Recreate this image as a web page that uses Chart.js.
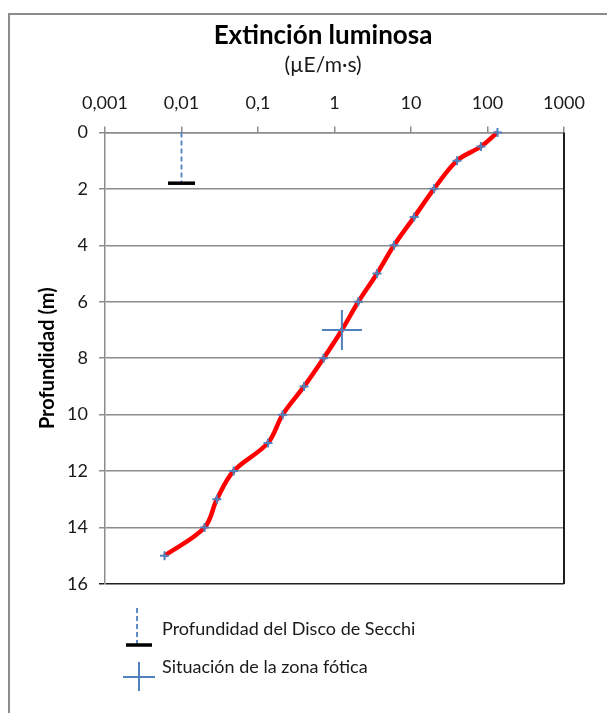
<!DOCTYPE html>
<html><head><meta charset="utf-8">
<script src="https://cdn.jsdelivr.net/npm/chart.js@4.4.1/dist/chart.umd.min.js"></script>
<style>html,body{margin:0;padding:0;background:#fff;}</style>
</head><body>
<canvas id="c" width="607" height="713"></canvas>
<script>
// ---- data ----
const depths = [0, 0.5, 1, 2, 3, 4, 5, 6, 7, 8, 9, 10, 11, 12, 13, 14, 15];
const lightValues = [135, 82, 40, 20, 11, 6, 3.6, 2.05, 1.25, 0.72, 0.4, 0.21, 0.135, 0.048, 0.029, 0.02, 0.006];
const xTickValues = [0.001, 0.01, 0.1, 1, 10, 100, 1000];
const xTickLabels = ['0,001', '0,01', '0,1', '1', '10', '100', '1000'];
const secchiLight = [0.01, 0.01];
const secchiDepths = [0, 1.8];
const photicLight = [1.25];
const photicDepth = [7];
const legendLabels = ['Profundidad del Disco de Secchi', 'Situación de la zona fótica'];
const titleText = 'Extinción luminosa';
const subtitleText = '(µE/m·s)';
const yTitleText = 'Profundidad (m)';

const BLUE = '#4F81BD';
const FONT = 'Lato';

const pts = (xs, ys) => xs.map((x, i) => ({x: x, y: ys[i]}));

const framePlugin = {
  id: 'frame',
  beforeDraw(chart) {
    const ctx = chart.ctx;
    ctx.save();
    ctx.fillStyle = '#fff';
    ctx.fillRect(0, 0, chart.width, chart.height);
    ctx.strokeStyle = '#8c8c8c';
    ctx.lineWidth = 2;
    ctx.strokeRect(9, 14, 800, 900);
    ctx.restore();
  },
  afterDatasetsDraw(chart) {
    const {ctx, chartArea: a} = chart;
    ctx.save();
    ctx.strokeStyle = '#1e1e1e';
    ctx.lineWidth = 2;
    ctx.beginPath();
    ctx.moveTo(a.right, a.top);
    ctx.lineTo(a.right, a.bottom);
    ctx.stroke();
    ctx.restore();
  },
  afterDraw(chart) {
    const {ctx, chartArea: a} = chart;
    ctx.save();
    // legend entry 1: Secchi
    const sx = a.left + 32;
    ctx.strokeStyle = BLUE;
    ctx.lineWidth = 1.8;
    ctx.setLineDash([5, 3]);
    ctx.beginPath();
    ctx.moveTo(sx, a.bottom + 24);
    ctx.lineTo(sx, a.bottom + 60);
    ctx.stroke();
    ctx.setLineDash([]);
    ctx.strokeStyle = '#000';
    ctx.lineWidth = 3.5;
    ctx.beginPath();
    ctx.moveTo(sx - 11, a.bottom + 61);
    ctx.lineTo(sx + 15, a.bottom + 61);
    ctx.stroke();
    // legend entry 2: cross
    const cx = a.left + 34, cy = a.bottom + 93;
    ctx.strokeStyle = BLUE;
    ctx.lineWidth = 2;
    ctx.beginPath();
    ctx.moveTo(cx - 16, cy); ctx.lineTo(cx + 16, cy);
    ctx.moveTo(cx, cy - 15); ctx.lineTo(cx, cy + 14);
    ctx.stroke();
    // texts
    ctx.fillStyle = '#1a1a1a';
    ctx.font = '18px ' + FONT;
    ctx.textBaseline = 'middle';
    ctx.textAlign = 'left';
    ctx.fillText(legendLabels[0], a.left + 57, a.bottom + 45);
    ctx.fillText(legendLabels[1], a.left + 57, a.bottom + 83);
    ctx.restore();
  }
};

new Chart(document.getElementById('c'), {
  type: 'scatter',
  data: {
    datasets: [
      {
        label: 'Extinción',
        data: pts(lightValues, depths),
        showLine: true,
        borderColor: '#FF0000',
        borderWidth: 4.5,
        tension: 0.35,
        pointStyle: 'cross',
        pointRadius: 4.5,
        pointBorderColor: BLUE,
        pointBorderWidth: 2,
        clip: false,
        order: 2
      },
      {
        label: legendLabels[1],
        data: pts(photicLight, photicDepth),
        pointStyle: 'cross',
        pointRadius: 20,
        pointBorderColor: BLUE,
        pointBorderWidth: 2,
        clip: false,
        order: 1
      },
      {
        label: legendLabels[0],
        data: pts(secchiLight, secchiDepths),
        showLine: true,
        borderColor: BLUE,
        borderWidth: 1.8,
        borderDash: [5, 3],
        pointRadius: 0,
        clip: false,
        order: 3
      },
      {
        label: 'Secchi',
        data: pts([secchiLight[1]], [secchiDepths[1]]),
        pointStyle: 'line',
        pointRadius: 13.5,
        pointBorderColor: '#000',
        pointBorderWidth: 3.5,
        clip: false,
        order: 0
      }
    ]
  },
  options: {
    responsive: false,
    animation: false,
    layout: {padding: {left: 39, right: 0, top: 0, bottom: 129}},
    plugins: {
      legend: {display: false},
      tooltip: {enabled: false},
      title: {
        display: true, text: titleText, color: '#000',
        font: {family: FONT, size: 26, weight: 'bold'},
        padding: {top: 20.4, bottom: 0}
      },
      subtitle: {
        display: true, text: subtitleText, color: '#1a1a1a',
        font: {family: FONT, size: 21},
        padding: {top: 0.8, bottom: 0}
      }
    },
    scales: {
      x: {
        type: 'logarithmic',
        position: 'top',
        min: xTickValues[0],
        max: xTickValues[xTickValues.length - 1],
        afterBuildTicks(scale) { scale.ticks = xTickValues.map(v => ({value: v})); },
        afterFit(scale) { scale.height = 54.8; },
        ticks: {
          autoSkip: false, maxRotation: 0,
          color: '#1a1a1a', font: {family: FONT, size: 18}, padding: 12,
          callback(v) { const i = xTickValues.indexOf(v); return i >= 0 ? xTickLabels[i] : ''; }
        },
        grid: {display: true, drawOnChartArea: false, tickLength: 6, color: '#8c8c8c', lineWidth: 1.5},
        border: {display: true, color: '#8c8c8c', width: 1.5}
      },
      y: {
        type: 'linear',
        position: 'left',
        reverse: true,
        min: 0, max: 16,
        afterFit(scale) { scale.width = 66; },
        ticks: {stepSize: 2, color: '#1a1a1a', font: {family: FONT, size: 18}, padding: 11},
        title: {
          display: true, text: yTitleText, color: '#000',
          font: {family: FONT, size: 20, weight: 'bold'},
          padding: {top: -3.5, bottom: 0}
        },
        grid: {
          tickLength: 6, lineWidth: 1.5,
          color: (c) => (c.tick && c.tick.value === 16) ? '#1e1e1e' : '#8c8c8c'
        },
        border: {display: true, color: '#8c8c8c', width: 1.5}
      },
      yRight: {
        type: 'linear',
        position: 'right',
        min: 0, max: 16,
        afterFit(scale) { scale.width = 43; },
        ticks: {display: false},
        grid: {display: false, drawOnChartArea: false},
        border: {display: false}
      }
    }
  },
  plugins: [framePlugin]
});
</script>
</body></html>
